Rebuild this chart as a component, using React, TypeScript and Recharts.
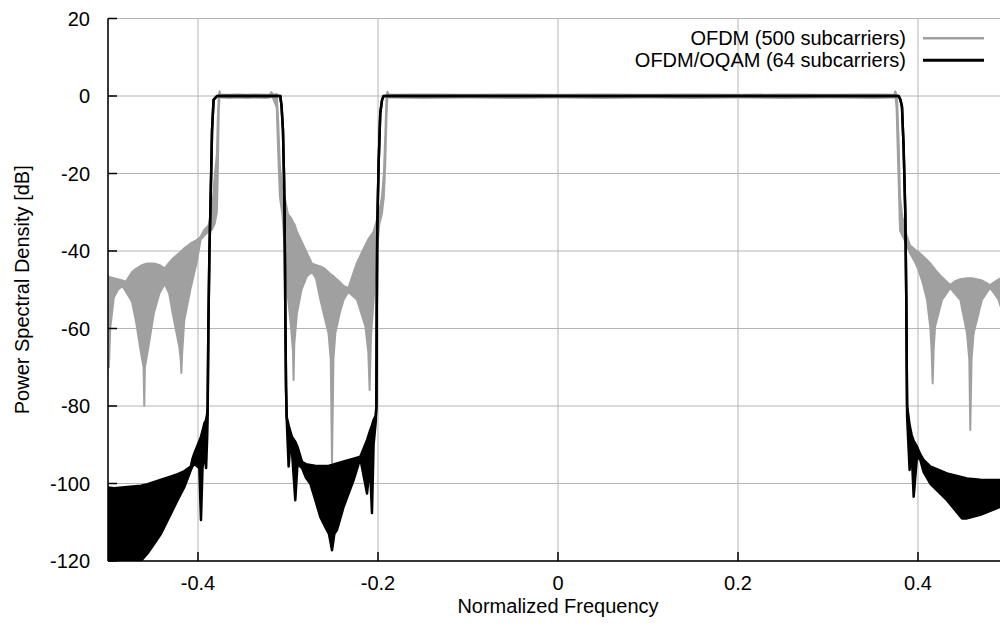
import { ComposedChart, Area, XAxis, YAxis, CartesianGrid, Legend, Label } from "recharts";

const FONT = '"Liberation Sans", Arial, Helvetica, sans-serif';

const seriesNames = ["OFDM (500 subcarriers)", "OFDM/OQAM (64 subcarriers)"];
const xTicks = [-0.4, -0.2, 0, 0.2, 0.4];
const yTicks = [-120, -100, -80, -60, -40, -20, 0, 20];

// OFDM, 500 subcarriers: fast ripple drawn as a low/high band per frequency
const ofdmFreq = [
  -0.5, -0.499, -0.4975, -0.4935, -0.489, -0.484, -0.48, -0.4735, -0.469, -0.4635,
  -0.4605, -0.4597, -0.459, -0.456, -0.449, -0.443, -0.437, -0.432, -0.4282, -0.4208,
  -0.4192, -0.4185, -0.4175, -0.4152, -0.4078, -0.4015, -0.397, -0.393, -0.3885, -0.3845,
  -0.3815, -0.379, -0.378, -0.377, -0.376, -0.375, -0.365, -0.355, -0.345, -0.335,
  -0.325, -0.32, -0.3185, -0.3165, -0.3125, -0.311, -0.309, -0.306, -0.303, -0.3,
  -0.2965, -0.2945, -0.2938, -0.293, -0.29, -0.285, -0.279, -0.2733, -0.269, -0.264,
  -0.2595, -0.255, -0.2525, -0.2511, -0.2495, -0.2474, -0.2425, -0.2382, -0.233, -0.2285,
  -0.2233, -0.214, -0.2108, -0.2093, -0.2078, -0.2049, -0.2012, -0.1985, -0.1956, -0.1935,
  -0.1919, -0.1905, -0.1895, -0.188, -0.15, -0.1, -0.05, 0, 0.05, 0.1,
  0.15, 0.2, 0.25, 0.3, 0.35, 0.3735, 0.3748, 0.3762, 0.377, 0.3785,
  0.38, 0.3825, 0.3859, 0.391, 0.397, 0.4007, 0.405, 0.41, 0.4136, 0.415,
  0.4163, 0.4175, 0.419, 0.4267, 0.4358, 0.441, 0.447, 0.4544, 0.457, 0.4581,
  0.4595, 0.4618, 0.471, 0.48, 0.485, 0.4895, 0.5,
];
const ofdmLow = [
  -58, -70, -60, -52, -50, -49, -50.5, -53, -58, -66,
  -70, -80, -70, -66, -56, -51, -48.5, -51, -56, -64.7,
  -68, -71.5, -66, -57.8, -49.2, -43, -37, -36, -35, -34.5,
  -33, -30, -20, -4, 0, -0.4, -0.5, -0.4, -0.5, -0.4,
  -0.5, -0.4, 0, -0.6, -3, -14, -26, -31, -42, -52,
  -60, -66, -73.3, -64, -56, -50, -46.5, -45.5, -47, -52.6,
  -57, -61.2, -68, -94.8, -68, -61.2, -56, -52.6, -50.5, -51.5,
  -52.6, -59.5, -66, -75.9, -62, -52.6, -39.7, -33, -30.3, -26,
  -17.4, -5, 0, -0.4, -0.5, -0.4, -0.5, -0.4, -0.5, -0.4,
  -0.5, -0.4, -0.5, -0.4, -0.5, -0.4, 0, -3, -10, -22,
  -34.6, -36, -37.5, -40.5, -43, -45, -48, -52.6, -59.5, -65,
  -74.2, -65, -59.5, -52.6, -49.5, -51, -52.6, -61.2, -68, -86.2,
  -68, -61.2, -52.6, -49.5, -51, -52.6, -60,
];
const ofdmHigh = [
  -46.5, -46.6, -46.8, -47, -47.3, -47.6, -47.9, -45.5, -44.6, -43.8,
  -43.5, -43.4, -43.4, -43.2, -43.2, -43.6, -44.5, -43, -42, -40.5,
  -40.2, -40, -39.8, -39.3, -38, -37.2, -36.3, -34.5, -33.5, -30,
  -21, -15, -6, 0, 1.2, 0.3, 0.3, 0.4, 0.3, 0.4,
  0.3, 0.4, 1.0, 0.3, 0.5, -6, -18, -25, -27, -30.5,
  -31.5, -32.5, -32.8, -33, -35, -37.5, -40.5, -43.3, -43.6, -44,
  -44.5, -45.5, -46, -46.2, -46.5, -47, -48, -49, -49.6, -46.5,
  -43, -38.5, -37, -36.5, -36, -35, -32, -29.5, -26, -20,
  -10, 0, 1.1, 0.3, 0.4, 0.3, 0.4, 0.3, 0.4, 0.3,
  0.4, 0.3, 0.4, 0.3, 0.4, 0.3, 1.2, 0.2, -2, -12,
  -26, -31, -35, -38.5, -39.7, -40.3, -41.2, -42.3, -43.2, -43.6,
  -44, -44.3, -44.8, -46.8, -48.8, -47.8, -47.3, -47, -47, -47,
  -47, -47.1, -47.6, -48.8, -48, -47.3, -46,
];

// OFDM/OQAM, 64 subcarriers
const oqamFreq = [
  -0.5, -0.493, -0.4635, -0.456, -0.4485, -0.441, -0.43, -0.4225, -0.415, -0.408,
  -0.406, -0.404, -0.3985, -0.3967, -0.395, -0.393, -0.391, -0.3898, -0.3893, -0.3885,
  -0.3873, -0.3863, -0.3852, -0.3844, -0.3827, -0.3789, -0.3086, -0.3072, -0.3056, -0.3045,
  -0.3038, -0.303, -0.3022, -0.3015, -0.2993, -0.2975, -0.2955, -0.2919, -0.2895, -0.2844,
  -0.28, -0.2753, -0.27, -0.2641, -0.2586, -0.2545, -0.2511, -0.2485, -0.2456, -0.2382,
  -0.2271, -0.2197, -0.2122, -0.209, -0.2067, -0.2049, -0.2025, -0.2018, -0.2014, -0.2008,
  -0.1993, -0.1975, -0.1955, -0.1938, 0.3785, 0.3805, 0.3822, 0.384, 0.3859, 0.387,
  0.3875, 0.3879, 0.3907, 0.393, 0.3952, 0.3989, 0.4026, 0.4062, 0.4136, 0.4322,
  0.4489, 0.4544, 0.4692, 0.4914, 0.5,
];
const oqamLow = [
  -120, -120, -120, -118, -115.5, -112.9, -107.7, -104.2, -100.8, -96.5,
  -95.5, -95, -96, -109.4, -96, -92, -96, -88, -83, -60,
  -40, -30, -18, -8.8, -1, 0, 0, -2.5, -8.8, -20,
  -30.3, -55, -75, -83, -95.6, -90, -92, -104.3, -95, -96,
  -98.5, -100, -104, -108.6, -111.2, -113, -117.2, -113, -112, -106,
  -99.1, -93.5, -102.6, -95, -107.6, -90, -84, -80, -55, -33.7,
  -17.4, -4.5, -1, 0, 0, -1, -2.8, -13, -30.3, -52.6,
  -70, -82.8, -96.5, -92, -103.4, -93, -93.9, -97, -100, -104.3,
  -109, -109, -108.1, -106, -105.5,
];
const oqamHigh = [
  -101, -101.2, -100.6, -100.2, -99.6, -99, -98.2, -97.6, -96.8, -95.6,
  -93.5, -92.2, -89, -87.9, -86.5, -84.5, -83.6, -82, -80, -60,
  -40, -30, -18, -8.8, -1, 0, 0, -2.5, -8.8, -20,
  -30.3, -55, -75, -82.8, -85, -86.5, -88, -89.2, -90.5, -94.4,
  -95, -95.2, -95.4, -95.5, -95.5, -95.4, -95.2, -95, -94.8, -94.3,
  -93.6, -93.1, -88.8, -86.5, -85, -83.6, -82.5, -80, -55, -33.7,
  -17.4, -4.5, -1, 0, 0, -1, -2.8, -13, -30.3, -52.6,
  -70, -80, -85, -87.5, -89, -90.5, -92.5, -93.9, -95.6, -97.4,
  -98.4, -98.7, -99, -99.1, -99.2,
];

const ofdmData = ofdmFreq.map((f, i) => ({ f, band: [ofdmLow[i], ofdmHigh[i]] }));
const oqamData = oqamFreq.map((f, i) => ({ f, band: [oqamLow[i], oqamHigh[i]] }));

const fmtX = (v: number) => (v === 0 ? "0" : String(v));

const tickText = { fontSize: 20, fontFamily: FONT, fill: "#000" };

function BottomTick({ x, y, payload }: any) {
  return (
    <g>
      <line x1={x} y1={y} x2={x} y2={y - 9} stroke="#000" strokeWidth={1.5} />
      <text x={x} y={y + 29} textAnchor="middle" {...tickText}>
        {fmtX(payload.value)}
      </text>
    </g>
  );
}

function TopTick({ x, y }: any) {
  return <line x1={x} y1={y} x2={x} y2={y + 9} stroke="#000" strokeWidth={1.5} />;
}

function LeftTick({ x, y, payload }: any) {
  return (
    <g>
      <line x1={x} y1={y} x2={x + 9} y2={y} stroke="#000" strokeWidth={1.5} />
      <text x={x - 18} y={y + 7} textAnchor="end" {...tickText}>
        {payload.value}
      </text>
    </g>
  );
}

function RightTick({ x, y }: any) {
  return <line x1={x} y1={y} x2={x - 9} y2={y} stroke="#000" strokeWidth={1.5} />;
}

function LegendBox() {
  const rows = [
    { name: seriesNames[0], color: "#a0a0a0", width: 2.5 },
    { name: seriesNames[1], color: "#000", width: 3 },
  ];
  return (
    <svg width={1000} height={75} style={{ display: "block" }}>
      {rows.map((r, i) => (
        <g key={r.name}>
          <text x={906} y={45 + i * 22} textAnchor="end" {...tickText}>
            {r.name}
          </text>
          <line x1={923} x2={984} y1={38.3 + i * 22} y2={38.3 + i * 22} stroke={r.color} strokeWidth={r.width} />
        </g>
      ))}
    </svg>
  );
}

export default function App() {
  return (
    <div
      style={{
        position: "absolute",
        left: 0,
        top: 0,
        width: 1000,
        height: 628,
        overflow: "hidden",
        background: "#fff",
        fontFamily: FONT,
      }}
    >
      <ComposedChart width={1030} height={628} margin={{ top: 18.5, right: 22, bottom: 27, left: 0 }}>
        <CartesianGrid stroke="#b4b4b4" strokeWidth={1} />
        <XAxis
          dataKey="f"
          type="number"
          domain={[-0.5, 0.5]}
          ticks={xTicks}
          interval={0}
          allowDataOverflow
          height={40}
          tickSize={0}
          tickMargin={0}
          tickLine={false}
          axisLine={{ stroke: "#000", strokeWidth: 1.5 }}
          tick={<BottomTick />}
        >
          <Label
            content={({ viewBox }: any) => (
              <text
                x={viewBox.x + viewBox.width / 2}
                y={viewBox.y + 52}
                textAnchor="middle"
                {...tickText}
              >
                Normalized Frequency
              </text>
            )}
          />
        </XAxis>
        <XAxis
          xAxisId="top"
          orientation="top"
          type="number"
          domain={[-0.5, 0.5]}
          ticks={xTicks}
          interval={0}
          height={0}
          tickSize={0}
          tickMargin={0}
          tickLine={false}
          axisLine={{ stroke: "#000", strokeWidth: 1.5 }}
          tick={<TopTick />}
        />
        <YAxis
          type="number"
          domain={[-120, 20]}
          ticks={yTicks}
          interval={0}
          allowDataOverflow
          width={108}
          tickSize={0}
          tickMargin={0}
          tickLine={false}
          axisLine={{ stroke: "#000", strokeWidth: 1.5 }}
          tick={<LeftTick />}
        >
          <Label
            content={({ viewBox }: any) => {
              const cx = viewBox.x + 29;
              const cy = viewBox.y + viewBox.height / 2;
              return (
                <text x={cx} y={cy} textAnchor="middle" transform={`rotate(-90, ${cx}, ${cy})`} {...tickText}>
                  Power Spectral Density [dB]
                </text>
              );
            }}
          />
        </YAxis>
        <YAxis
          yAxisId="right"
          orientation="right"
          type="number"
          domain={[-120, 20]}
          ticks={yTicks}
          interval={0}
          width={0}
          tickSize={0}
          tickMargin={0}
          tickLine={false}
          axisLine={{ stroke: "#000", strokeWidth: 1.5 }}
          tick={<RightTick />}
        />
        <Legend
          layout="vertical"
          align="center"
          verticalAlign="middle"
          wrapperStyle={{ top: 0, left: 0, width: 1000, height: 75 }}
          content={() => <LegendBox />}
        />
        <Area
          data={ofdmData}
          dataKey="band"
          name={seriesNames[0]}
          type="linear"
          stroke="#a0a0a0"
          strokeWidth={2}
          strokeLinejoin="round"
          fill="#a0a0a0"
          fillOpacity={1}
          dot={false}
          activeDot={false}
          isAnimationActive={false}
        />
        <Area
          data={oqamData}
          dataKey="band"
          name={seriesNames[1]}
          type="linear"
          stroke="#000"
          strokeWidth={2.5}
          strokeLinejoin="round"
          fill="#000"
          fillOpacity={1}
          dot={false}
          activeDot={false}
          isAnimationActive={false}
        />
      </ComposedChart>
    </div>
  );
}
